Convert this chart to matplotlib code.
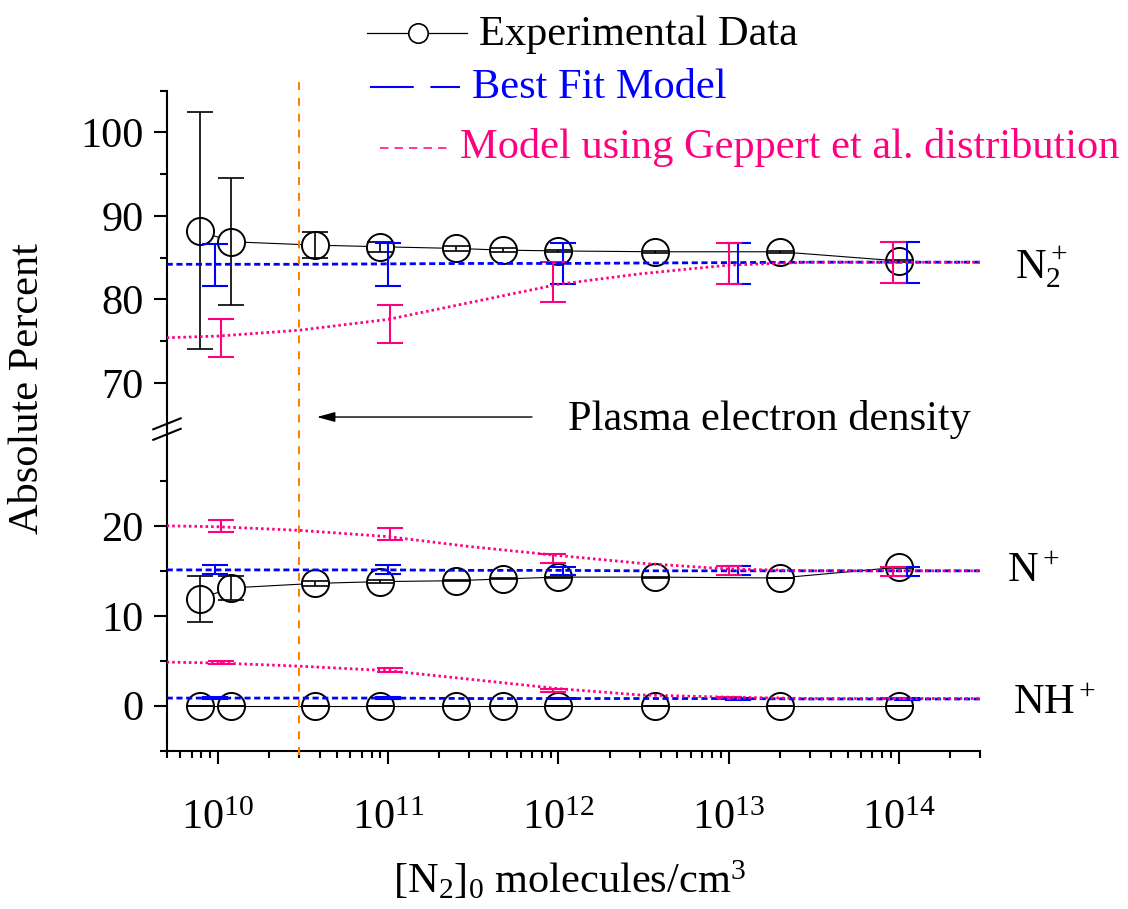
import matplotlib
matplotlib.use("Agg")
import matplotlib.pyplot as plt
import matplotlib.transforms as mtransforms
from matplotlib.lines import Line2D
from matplotlib.ticker import LogLocator, FixedLocator, NullFormatter

plt.rcParams["font.family"] = ["Liberation Serif", "DejaVu Serif"]
plt.rcParams["mathtext.fontset"] = "custom"
plt.rcParams["mathtext.rm"] = "Liberation Serif"
plt.rcParams["mathtext.it"] = "Liberation Serif:italic"
plt.rcParams["mathtext.bf"] = "Liberation Serif:bold"

# ---- measured ion fractions (percent) vs initial N2 density ----
n2_density = [7.8e9, 1.2e10, 3.7e10, 9.0e10, 2.5e11, 4.7e11, 1.0e12, 3.7e12, 2.0e13, 1.0e14]
exp_n2p = [88.2, 86.9, 86.5, 86.3, 86.1, 85.9, 85.8, 85.7, 85.7, 84.6]
exp_n2p_err = [14.2, 7.6, 1.6, 0.6, 0.25, 0.25, 0.1, 0.1, 0.1, 0.1]
exp_np = [11.9, 13.1, 13.6, 13.8, 13.9, 14.1, 14.3, 14.3, 14.2, 15.4]
exp_np_err = [2.55, 1.35, 0.3, 0.2, 0.05, 0.05, 0.05, 0.05, 0.05, 0.05]
exp_nhp = [0.0, 0.0, 0.0, 0.0, 0.0, 0.0, 0.0, 0.0, 0.0, 0.0]
exp_nhp_err = [0.0, 0.0, 0.0, 0.0, 0.0, 0.0, 0.0, 0.0, 0.0, 0.0]

# ---- model curves ----
model_density = [5e9, 1e10, 3e10, 1e11, 3e11, 1e12, 3e12, 1e13, 3e13, 1e14, 3e14]
fit_n2p = [84.2, 84.2, 84.2, 84.25, 84.3, 84.3, 84.35, 84.4, 84.45, 84.45, 84.45]
fit_np = [15.1, 15.1, 15.1, 15.1, 15.05, 15.05, 15.0, 15.0, 15.0, 15.0, 15.0]
fit_nhp = [0.85, 0.85, 0.85, 0.85, 0.8, 0.8, 0.8, 0.8, 0.75, 0.75, 0.75]
gep_n2p = [75.4, 75.6, 76.3, 77.6, 79.6, 81.8, 83.05, 84.1, 84.45, 84.45, 84.45]
gep_np = [20.0, 19.9, 19.5, 18.8, 17.7, 16.7, 15.85, 15.2, 15.0, 15.0, 15.0]
gep_nhp = [4.85, 4.75, 4.4, 3.9, 2.95, 1.9, 1.2, 0.95, 0.8, 0.8, 0.8]

# ---- model uncertainties at selected densities ----
fit_bar_density = [9.6e9, 1.0e11, 1.07e12, 1.14e13, 1.12e14]
fit_bar_n2p = [84.1, 84.15, 84.3, 84.3, 84.4]
fit_bar_n2p_err = [2.5, 2.55, 2.5, 2.5, 2.5]
fit_bar_np = [15.15, 15.15, 15.0, 15.05, 14.95]
fit_bar_np_err = [0.45, 0.45, 0.45, 0.5, 0.5]
fit_bar_nhp = [0.85, 0.85, 0.8, 0.75, 0.75]
fit_bar_nhp_err = [0.1, 0.1, 0.1, 0.1, 0.1]

gep_bar_density = [1.04e10, 1.02e11, 9.3e11, 1.01e13, 9.2e13]
gep_bar_n2p = [75.35, 77.05, 82.1, 84.3, 84.4]
gep_bar_n2p_err = [2.25, 2.25, 2.4, 2.5, 2.5]
gep_bar_np = [19.95, 19.1, 16.4, 15.05, 14.95]
gep_bar_np_err = [0.65, 0.7, 0.5, 0.5, 0.5]
gep_bar_nhp = [4.8, 3.95, 1.7, 0.85, 0.8]
gep_bar_nhp_err = [0.2, 0.25, 0.2, 0.1, 0.1]

plasma_density = 3e10

ion_labels = [r"$\mathrm{N}_2^+$", r"$\mathrm{N}^+$", r"$\mathrm{NH}^+$"]
legend_labels = ["Experimental Data", "Best Fit Model",
                 "Model using Geppert et al. distribution"]

BLUE = "#0000FF"
PINK = "#FF0080"
ORANGE = "#FF8000"
FS = 30.5
TICK_FS = 30.5

W, H = 1128, 909
fig = plt.figure(figsize=(W / 100, H / 100), dpi=100)


def px_rect(left, top, right, bottom):
    return [left / W, 1 - bottom / H, (right - left) / W, (bottom - top) / H]


def fx(x):
    return x / W


def fy(y):
    return 1 - y / H


ax_top = fig.add_axes(px_rect(166.7, 90.7, 980, 428.7))
ax_bot = fig.add_axes(px_rect(166.7, 428.7, 980, 750.7), sharex=ax_top)

for ax in (ax_top, ax_bot):
    ax.set_xscale("log")
    ax.set_xlim(5e9, 3e14)
    ax.patch.set_visible(False)
    ax.spines["top"].set_visible(False)
    ax.spines["right"].set_visible(False)
    ax.spines["left"].set_linewidth(1.5)
    ax.spines["bottom"].set_linewidth(1.5)
    ax.tick_params(axis="both", which="major", direction="out", length=9.4,
                   width=1.5, labelsize=TICK_FS, pad=7)
    ax.tick_params(axis="both", which="minor", direction="out", length=5,
                   width=1.5)

ax_top.spines["bottom"].set_visible(False)
ax_top.tick_params(axis="x", which="both", bottom=False, labelbottom=False)

ax_top.set_ylim(64.5, 105)
ax_top.yaxis.set_major_locator(FixedLocator([70, 80, 90, 100]))
ax_top.yaxis.set_minor_locator(FixedLocator([75, 85, 95, 105]))
ax_bot.set_ylim(-5, 30.8)
ax_bot.yaxis.set_major_locator(FixedLocator([0, 10, 20]))
ax_bot.yaxis.set_minor_locator(FixedLocator([-5, 5, 15, 25]))

ax_bot.xaxis.set_major_locator(LogLocator(base=10, numticks=20))
ax_bot.xaxis.set_minor_locator(LogLocator(base=10, subs=range(2, 10), numticks=20))
ax_bot.xaxis.set_minor_formatter(NullFormatter())
ax_bot.tick_params(axis="x", which="major", pad=26)

CAP = 9.7


def draw_species(ax, exp, exp_err, fit, gep, fbar, fbar_err, gbar, gbar_err):
    ax.plot(n2_density, exp, color="black", lw=0.8, zorder=3)
    ax.plot(n2_density, exp, ls="none", marker="o", ms=19.5, mfc="white",
            mec="black", mew=1.4, zorder=4)
    ax.errorbar(n2_density, exp, yerr=exp_err, fmt="none", ecolor="black",
                elinewidth=1.2, capsize=CAP, capthick=1.2, zorder=5)
    ax.errorbar(fit_bar_density, fbar, yerr=fbar_err, fmt="none", ecolor=BLUE,
                elinewidth=1.5, capsize=CAP, capthick=1.5, zorder=6)
    ax.errorbar(gep_bar_density, gbar, yerr=gbar_err, fmt="none", ecolor=PINK,
                elinewidth=1.5, capsize=CAP, capthick=1.5, zorder=6)
    ax.plot(model_density, fit, color=BLUE, lw=2.0, dashes=(2.2, 1.3), zorder=7)
    ax.plot(model_density, gep, color=PINK, lw=2.0, dashes=(0.9, 1.1), zorder=8)


draw_species(ax_top, exp_n2p, exp_n2p_err, fit_n2p, gep_n2p,
             fit_bar_n2p, fit_bar_n2p_err, gep_bar_n2p, gep_bar_n2p_err)
draw_species(ax_bot, exp_np, exp_np_err, fit_np, gep_np,
             fit_bar_np, fit_bar_np_err, gep_bar_np, gep_bar_np_err)
draw_species(ax_bot, exp_nhp, exp_nhp_err, fit_nhp, gep_nhp,
             fit_bar_nhp, fit_bar_nhp_err, gep_bar_nhp, gep_bar_nhp_err)

# plasma electron density marker spanning the full plot height
trans = mtransforms.blended_transform_factory(ax_bot.transData, fig.transFigure)
fig.add_artist(Line2D([plasma_density, plasma_density], [fy(755), fy(80)],
                      transform=trans, color=ORANGE, lw=1.5, dashes=(3.8, 3.8)))

ax_top.annotate("", xy=(3.81e10, 65.9), xytext=(7.0e11, 65.9),
                arrowprops=dict(arrowstyle="-|>,head_length=0.55,head_width=0.15",
                                color="black", lw=1.0, shrinkA=0, shrinkB=0,
                                mutation_scale=20),
                annotation_clip=False)
fig.text(fx(568), fy(430), "Plasma electron density", fontsize=FS,
         ha="left", va="baseline")

# axis break marks
for yc in (423.8, 434.3):
    fig.add_artist(Line2D([fx(153.3), fx(180.7)], [fy(yc + 5.5), fy(yc - 5.5)],
                          transform=fig.transFigure, color="black", lw=1.5))

# species labels
fig.text(fx(1015), fy(278), ion_labels[0], fontsize=FS, ha="left", va="baseline")
fig.text(fx(1007), fy(582), ion_labels[1], fontsize=FS, ha="left", va="baseline")
fig.text(fx(1013), fy(714), ion_labels[2], fontsize=FS, ha="left", va="baseline")

# axis titles
fig.text(fx(28), fy(389), "Absolute Percent", fontsize=FS, rotation=90,
         ha="center", va="center")
fig.text(fx(569), fy(893), r"$[\mathrm{N}_2]_0$ molecules/cm$^3$", fontsize=FS,
         ha="center", va="baseline")

# legend
fig.add_artist(Line2D([fx(367), fx(467)], [fy(33), fy(33)],
                      transform=fig.transFigure, color="black", lw=0.9))
fig.add_artist(Line2D([fx(418)], [fy(33)], transform=fig.transFigure, ls="none",
                      marker="o", ms=14, mfc="white", mec="black", mew=1.2))
fig.text(fx(479), fy(45), legend_labels[0], fontsize=FS, ha="left",
         va="baseline", color="black")

fig.add_artist(Line2D([fx(370), fx(460)], [fy(87), fy(87)],
                      transform=fig.transFigure, color=BLUE, lw=1.5,
                      dashes=(21, 8)))
fig.text(fx(472), fy(98), legend_labels[1], fontsize=FS, ha="left",
         va="baseline", color=BLUE)

fig.add_artist(Line2D([fx(380), fx(448)], [fy(148), fy(148)],
                      transform=fig.transFigure, color=PINK, lw=1.1,
                      dashes=(5.5, 4)))
fig.text(fx(460), fy(158), legend_labels[2], fontsize=FS, ha="left",
         va="baseline", color=PINK)

fig.savefig("out.png", dpi=100)
